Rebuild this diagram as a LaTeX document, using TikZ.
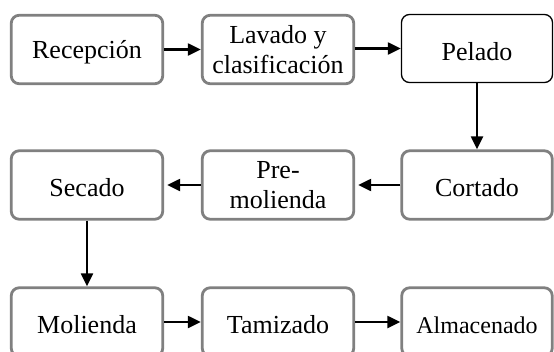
\documentclass[tikz,border=0pt]{standalone}
\usepackage{fontspec}
\setmainfont{Liberation Serif}
\usetikzlibrary{arrows.meta}
\definecolor{boxgray}{RGB}{128,128,128}
\newcommand{\lowtext}[1]{\raisebox{-3pt}[\height][\depth]{#1}}
\tikzset{
  graybox/.style={draw=boxgray, line width=2.8pt, rounded corners=8pt, fill=white,
    minimum width=151.5pt, minimum height=68.5pt, inner sep=0pt, align=center,
    font=\fontsize{26}{30}\selectfont},
  blackbox/.style={draw=black, line width=1.3pt, rounded corners=8pt, fill=white,
    minimum width=151pt, minimum height=68pt, inner sep=0pt, align=center,
    font=\fontsize{26}{30}\selectfont},
  arr/.style={line width=2.2pt, -{Triangle[length=13pt,width=12pt]}}
}
\begin{document}
\begin{tikzpicture}[x=1pt,y=-1pt]
\useasboundingbox (0,0) rectangle (554,351);
\clip (0,0) rectangle (554,351);
\node[graybox] (rec) at (87,49.5) {\lowtext{Recepción}};
\node[graybox] (lav) at (278,49.5) {Lavado y\\clasificación};
\node[blackbox] (pel) at (477,48.5) {\lowtext{Pelado}};
\node[graybox] (sec) at (87,185) {\lowtext{Secado}};
\node[graybox] (pre) at (278,185) {Pre-\\molienda};
\node[graybox, minimum width=150.5pt] (cor) at (477,185) {\lowtext{Cortado}};
\node[graybox] (mol) at (87,322) {\lowtext{Molienda}};
\node[graybox] (tam) at (278,322) {\lowtext{Tamizado}};
\node[graybox, minimum width=150.5pt, font=\fontsize{24}{28}\selectfont] (alm) at (477,322) {\lowtext{Almacenado}};
\draw[arr] (rec.east) -- (lav.west);
\draw[arr] (lav.east |- pel.west) -- (pel.west);
\draw[arr] (pel) -- (cor);
\draw[arr] (cor.west) -- ([xshift=3pt]pre.east);
\draw[arr] (pre.west) -- ([xshift=3pt]sec.east);
\draw[arr] (sec) -- (mol);
\draw[arr] (mol.east) -- (tam.west);
\draw[arr] (tam.east) -- (alm.west);
\end{tikzpicture}
\end{document}
